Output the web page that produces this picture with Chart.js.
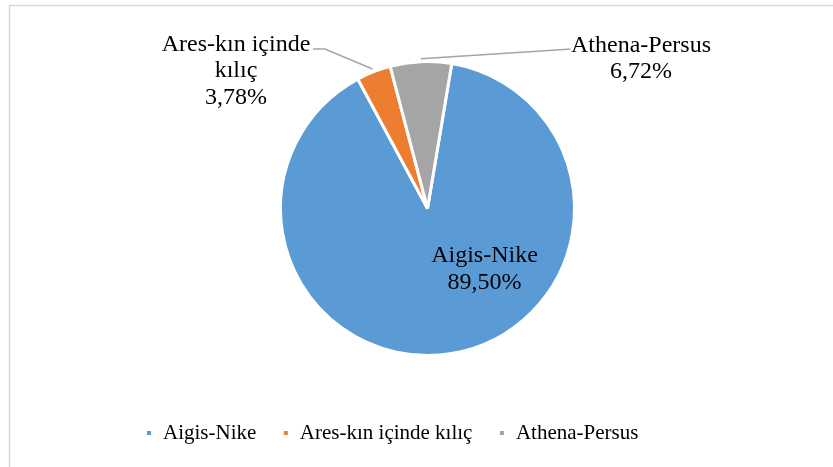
<!DOCTYPE html>
<html>
<head>
<meta charset="utf-8">
<title>Pie chart</title>
<script src="https://cdn.jsdelivr.net/npm/chart.js@4"></script>
<style>
  html, body { margin: 0; padding: 0; background: #ffffff; }
  #wrap { position: relative; width: 833px; height: 467px; }
</style>
</head>
<body>
<div id="wrap"><canvas id="pieChart"></canvas></div>
<script>
// Data
const categories = ["Aigis-Nike", "Ares-kın içinde kılıç", "Athena-Persus"];
const shares = [89.50, 3.78, 6.72];
const shareLabels = ["89,50%", "3,78%", "6,72%"];
// label text as split in the picture
const labelLines = [
  ["Aigis-Nike", "89,50%"],
  ["Ares-kın içinde", "kılıç", "3,78%"],
  ["Athena-Persus", "6,72%"],
];

const colors = ["#5B9BD5", "#ED7D31", "#A5A5A5"];
const serif = "'Liberation Serif', 'Times New Roman', serif";

// Where each data label sits, relative to the pie centre (px)
// leader: points of the callout line, starting at the arc's mid edge
const labelPlacement = [
  { dx: 57, dy: 53.5, leader: null },
  { dx: -191.5, dy: -157.8, leader: [[-102.5, -159.5], [-114.5, -159.5]] },
  { dx: 213.5, dy: -156.8, leader: [[140.5, -159.2], [143, -159.2]] },
];

// Frame around the chart (only top and left are inside the picture)
const framePlugin = {
  id: "frame",
  beforeDraw(chart) {
    const ctx = chart.ctx;
    ctx.save();
    ctx.strokeStyle = "#D9D9D9";
    ctx.lineWidth = 1.5;
    ctx.strokeRect(9.5, 5.5, 900, 500);
    ctx.restore();
  },
};

// Draw the data labels with their callout lines
const dataLabelPlugin = {
  id: "pieLabels",
  afterDatasetsDraw(chart) {
    const ctx = chart.ctx;
    const meta = chart.getDatasetMeta(0);
    ctx.save();
    ctx.font = "24px " + serif;
    ctx.fillStyle = "#000000";
    ctx.textAlign = "center";
    ctx.textBaseline = "alphabetic";
    meta.data.forEach(function (arc, i) {
      const p = arc.getProps(["x", "y", "startAngle", "endAngle", "outerRadius"], true);
      const place = labelPlacement[i];
      if (place.leader) {
        const mid = (p.startAngle + p.endAngle) / 2;
        const r = p.outerRadius + 3;
        ctx.beginPath();
        ctx.strokeStyle = "#A5A5A5";
        ctx.lineWidth = 1.5;
        ctx.moveTo(p.x + Math.cos(mid) * r, p.y + Math.sin(mid) * r);
        place.leader.forEach(function (pt) {
          ctx.lineTo(p.x + pt[0], p.y + pt[1]);
        });
        ctx.stroke();
      }
      labelLines[i].forEach(function (line, k) {
        ctx.fillText(line, p.x + place.dx, p.y + place.dy + k * 26.5);
      });
    });
    ctx.restore();
  },
};

const ctx = document.getElementById("pieChart");
new Chart(ctx, {
  type: "pie",
  data: {
    labels: categories,
    datasets: [
      {
        data: shares,
        backgroundColor: colors,
        borderColor: "#ffffff",
        borderWidth: 3,
      },
    ],
  },
  options: {
    responsive: true,
    maintainAspectRatio: false,
    animation: false,
    rotation: 9.5,
    radius: 147,
    layout: {
      padding: { left: 119.5, right: 97.5, top: 20.5, bottom: 13.5 },
    },
    plugins: {
      legend: {
        position: "bottom",
        align: "start",
        labels: {
          boxWidth: 7,
          boxHeight: 7,
          padding: 26,
          color: "#000000",
          font: { family: serif, size: 21 },
        },
      },
      tooltip: {
        callbacks: {
          label: function (item) {
            return shareLabels[item.dataIndex];
          },
        },
      },
    },
  },
  plugins: [framePlugin, dataLabelPlugin],
});
</script>
</body>
</html>
